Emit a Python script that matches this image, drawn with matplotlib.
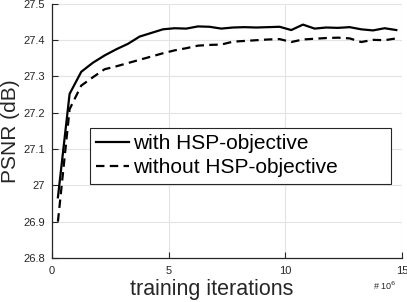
import numpy as np
import matplotlib
matplotlib.use("Agg")
import matplotlib.pyplot as plt

# training iterations (x 1e6)
iters = np.arange(0.25, 15.0, 0.5)

psnr_with = [26.967, 27.252, 27.313, 27.338, 27.358, 27.375, 27.390, 27.410,
             27.420, 27.430, 27.433, 27.432, 27.438, 27.437, 27.432, 27.435,
             27.436, 27.435, 27.436, 27.437, 27.428, 27.443, 27.432, 27.435,
             27.434, 27.436, 27.430, 27.427, 27.433, 27.428]

psnr_without = [26.900, 27.210, 27.275, 27.298, 27.320, 27.328, 27.337, 27.346,
                27.355, 27.364, 27.372, 27.378, 27.385, 27.387, 27.388, 27.396,
                27.398, 27.400, 27.402, 27.403, 27.395, 27.402, 27.404, 27.406,
                27.407, 27.405, 27.395, 27.401, 27.400, 27.405]

xticks = [0, 5, 10, 15]
yticks = [26.8, 26.9, 27.0, 27.1, 27.2, 27.3, 27.4, 27.5]
yticklabels = ['26.8', '26.9', '27', '27.1', '27.2', '27.3', '27.4', '27.5']

plt.rcParams['font.family'] = ['Liberation Sans', 'DejaVu Sans']
dark = '#262626'

fig = plt.figure(figsize=(4.07, 3.02), dpi=100)
ax = fig.add_axes([0.128, 0.146, 0.86, 0.841])

ax.plot(iters, psnr_with, color='black', lw=1.6, label='with HSP-objective')
ax.plot(iters, psnr_without, color='black', lw=1.6, ls=(0, (3.8, 2.4)),
        label='without HSP-objective')

ax.set_xlim(0, 15)
ax.set_ylim(26.8, 27.5)
ax.set_xticks(xticks)
ax.set_xticklabels([str(t) for t in xticks])
ax.set_yticks(yticks)
ax.set_yticklabels(yticklabels)
ax.tick_params(direction='in', length=4, width=0.8, colors=dark, labelsize=8)
ax.tick_params(axis='x', pad=6)
ax.tick_params(axis='y', pad=5)
ax.grid(color='#e3e3e3', lw=0.8)
ax.set_axisbelow(True)
for s in ['top', 'right']:
    ax.spines[s].set_visible(False)
for s in ['left', 'bottom']:
    ax.spines[s].set_color(dark)
    ax.spines[s].set_linewidth(0.9)

ax.set_xlabel('training iterations', fontsize=15.5, color=dark, labelpad=2)
ax.xaxis.label.set_x(0.457)
ax.set_ylabel('PSNR (dB)', fontsize=15, color=dark)
ax.yaxis.set_label_coords(-0.093, 0.5)

fig.text(0.917, 0.04, r'# 10$^6$', fontsize=6.5, color=dark)

leg = ax.legend(loc='upper left', bbox_to_anchor=(0.1086, 0.291, 0.86, 0.221),
                mode='expand', fontsize=15,
                frameon=True, fancybox=False, framealpha=1, edgecolor=dark,
                handlelength=1.55, handletextpad=0.2, borderpad=0.3,
                labelspacing=0.25, borderaxespad=0)
leg.get_frame().set_linewidth(0.8)

fig.savefig('out.png', dpi=100)
